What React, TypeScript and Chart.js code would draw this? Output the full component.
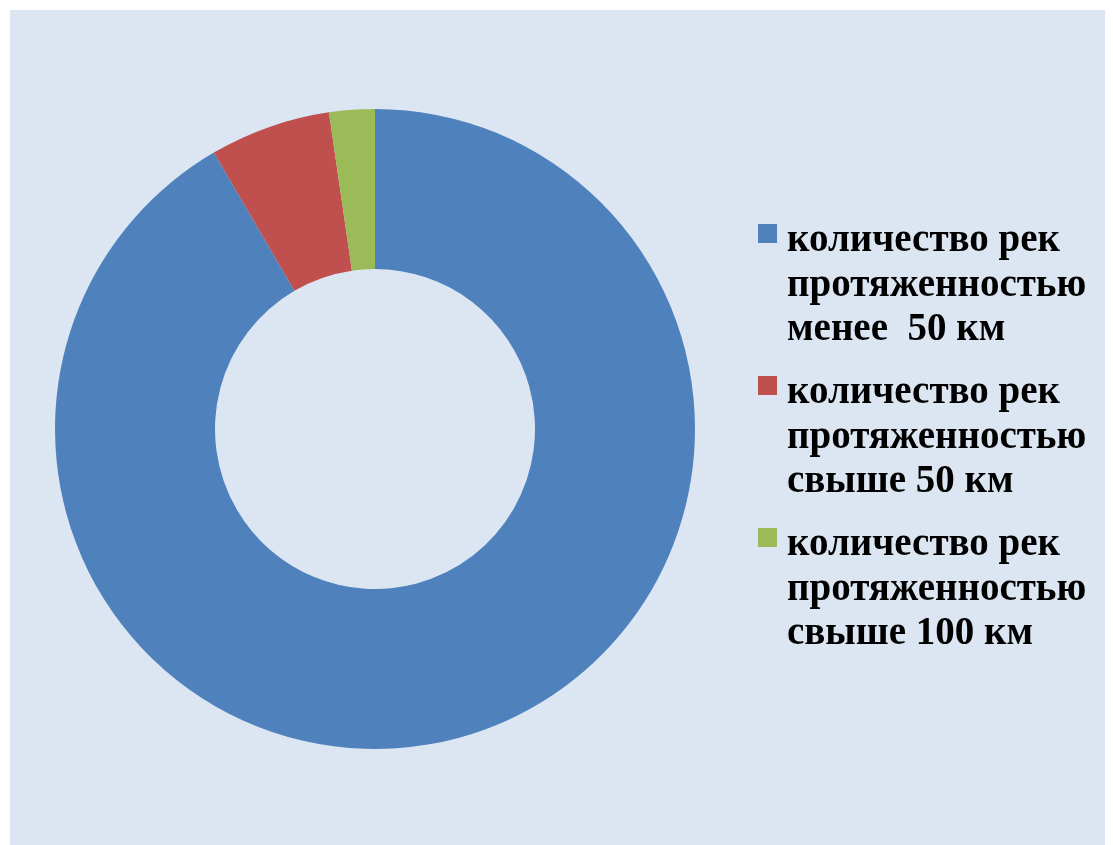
import React, { useEffect, useRef } from "react";
import { Chart, registerables } from "chart.js";

Chart.register(...registerables);

const categories: string[][] = [
  ["количество рек", "протяженностью", "менее  50 км"],
  ["количество рек", "протяженностью", "свыше 50 км"],
  ["количество рек", "протяженностью", "свыше 100 км"],
];
const values: number[] = [91.6, 6.1, 2.3];
const colors: string[] = ["#4F81BD", "#C0504D", "#9BBB59"];

const legendPlugin = {
  id: "sideLegend",
  afterDraw(chart: any) {
    const ctx = chart.ctx as CanvasRenderingContext2D;
    const labels = chart.data.labels as string[][];
    const bg = chart.data.datasets[0].backgroundColor as string[];
    const markerX = 748;
    const textX = 777;
    const firstBaseline = 241;
    const lineH = 44.5;
    const itemH = 152;
    ctx.save();
    ctx.font = "bold 39px 'Liberation Serif', 'Times New Roman', serif";
    ctx.fillStyle = "#000000";
    ctx.textBaseline = "alphabetic";
    ctx.textAlign = "left";
    labels.forEach((lines, i) => {
      const base = firstBaseline + i * itemH;
      ctx.fillStyle = bg[i];
      ctx.fillRect(markerX, base - 27, 19, 19);
      ctx.fillStyle = "#000000";
      lines.forEach((ln, j) => {
        ctx.fillText(ln, textX, base + j * lineH);
      });
    });
    ctx.restore();
  },
};

export default function App() {
  const ref = useRef<HTMLCanvasElement>(null);
  useEffect(() => {
    if (!ref.current) return;
    const chart = new Chart(ref.current, {
      type: "doughnut",
      data: {
        labels: categories as any,
        datasets: [
          {
            data: values,
            backgroundColor: colors,
            borderWidth: 0,
          },
        ],
      },
      options: {
        animation: false,
        responsive: false,
        cutout: "50%",
        layout: { padding: { left: 45, right: 418, top: 99, bottom: 96 } },
        plugins: {
          legend: { display: false },
          tooltip: { enabled: false },
        },
      },
      plugins: [legendPlugin],
    });
    return () => chart.destroy();
  }, []);
  return (
    <div style={{ margin: "2px 0 0 2px", width: 1103, height: 835, background: "#DCE6F2" }}>
      <canvas ref={ref} width={1103} height={835} style={{ display: "block", width: 1103, height: 835 }} />
    </div>
  );
}
